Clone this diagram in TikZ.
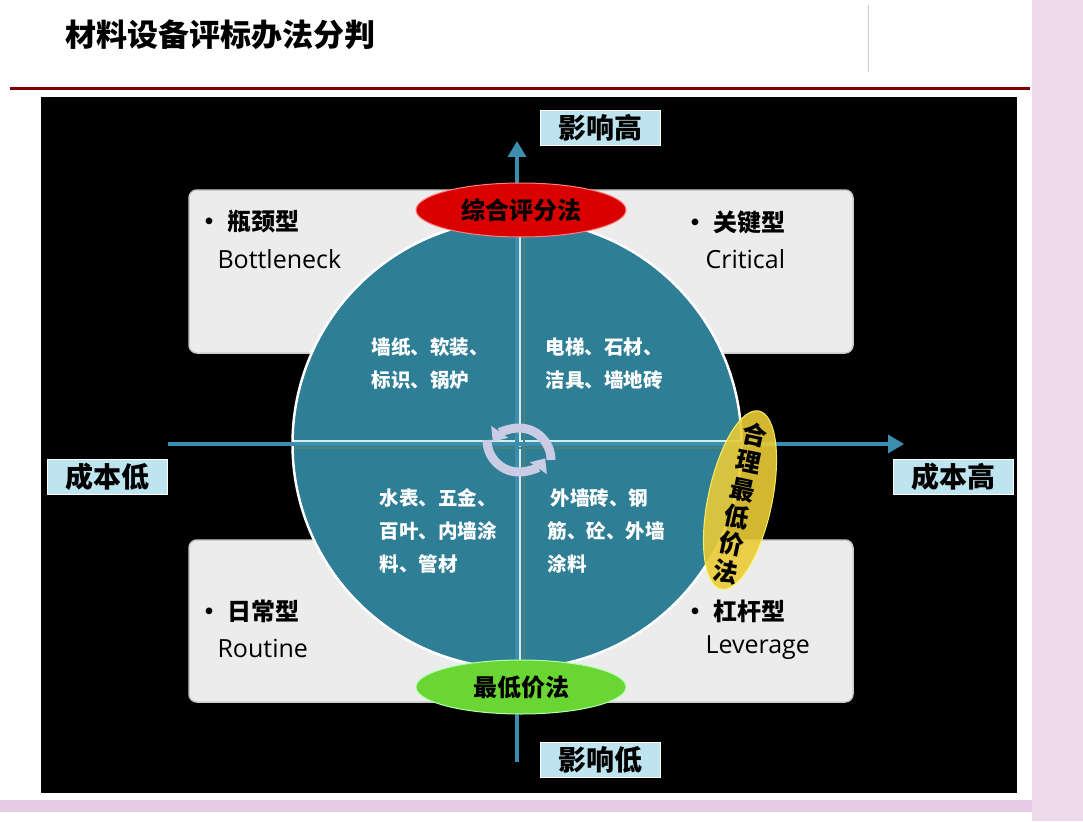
\documentclass[tikz,border=0pt]{standalone}
\usepackage{fontspec}
\setmainfont{Open Sans}
\newfontfamily\cjk{Noto Sans CJK SC}
\usetikzlibrary{arrows.meta,shapes.geometric}
\definecolor{circ}{HTML}{2E7E96}
\definecolor{axc}{HTML}{3B8EAE}
\definecolor{labf}{HTML}{BDE4EF}
\definecolor{arcc}{HTML}{C9CCE4}
\begin{document}
\begin{tikzpicture}[x=1pt,y=-1pt,
  qbox/.style={draw=white!60!gray,line width=1.5pt,fill=gray!15,rounded corners=8pt},
  axlab/.style={draw=white,line width=1pt,fill=labf,minimum width=120pt,minimum height=35pt,font=\cjk\bfseries\fontsize{28}{30}\selectfont},
  qtxt/.style={text=white,font=\cjk\bfseries\fontsize{19.5}{33}\selectfont,align=left},
  btxt/.style={anchor=west,font=\fontsize{25}{28}\selectfont},
  bct/.style={anchor=west,font=\cjk\bfseries\fontsize{24}{28}\selectfont},
  ax/.style={draw=axc,line width=3.5pt,-{Triangle[length=16pt,width=18pt]}},
  arc/.style={draw=arcc,line width=9pt}]
\useasboundingbox (0,0) rectangle (1083,821);
\fill[white] (0,0) rectangle (1083,821);
\fill[violet!15] (1032,0) rectangle (1083,821);
\fill[violet!20] (0,800) rectangle (1032,812);
\node[anchor=west,font=\cjk\bfseries\fontsize{31}{34}\selectfont] (title) at (62,35) {材料设备评标办法分判};
\draw[gray!40,line width=1pt] (868,5) -- (868,72);
\draw[red!50!black,line width=3pt] (10,89) -- (1030,89);
\fill[black] (41,97) rectangle (1017,793);
% boxes
\draw[qbox] (189,190) rectangle (500,353);
\draw[qbox] (540,190) rectangle (853,353);
\draw[qbox] (189,540) rectangle (500,702);
\draw[qbox] (540,540) rectangle (853,702);
\node[bct] (b1) at (194,222) {• 瓶颈型};
\node[btxt] (b1e) at (214,259) {Bottleneck};
\node[bct] (b2) at (680,222) {• 关键型};
\node[btxt] (b2e) at (702,259) {Critical};
\node[bct] (b3) at (194,611) {• 日常型};
\node[btxt] (b3e) at (214,648) {Routine};
\node[bct] (b4) at (680,611) {• 杠杆型};
\node[btxt] (b4e) at (702,648) {Leverage};
% circle
\node[circle,draw=white,line width=2.5pt,fill=circ,minimum size=449pt,inner sep=0pt] (c) at (517,444) {};
\draw[white!85!teal,line width=2.5pt] (520,224) -- (520,667) (294,441) -- (741,441);
\draw[gray!60!teal,line width=1.5pt] (524,224)--(524,667) (294,448)--(741,448);
% axes
\coordinate (vb) at (517,762);
\coordinate (vt) at (517,141);
\coordinate (hl) at (168,444);
\coordinate (hr) at (904,444);
\draw[ax] (vb) -- (vt);
\draw[ax] (hl) -- (hr);
% circular arrows
\draw[arc,-{Triangle[length=12pt,width=20pt]}] (487,440) arc (180:35:32);
\draw[arc,-{Triangle[length=12pt,width=20pt]}] (551,460) arc (0:-145:32);
% quadrant text
\node[qtxt] (q1) at (430,364) {墙纸、软装、\\标识、锅炉};
\node[qtxt] (q2) at (604,364) {电梯、石材、\\洁具、墙地砖};
\node[qtxt] (q3) at (438,531) {水表、五金、\\百叶、内墙涂\\料、管材};
\node[qtxt] (q4) at (606,531) {\,外墙砖、钢\\筋、砼、外墙\\涂料};
% ellipses
\node[ellipse,fill=red!85!black,draw=red!50!white,line width=1pt,minimum width=210pt,minimum height=54pt,font=\cjk\bfseries\fontsize{24}{26}\selectfont,text=black] (e1) at (521,210) {综合评分法};
\node[ellipse,fill=green!55!lime!80!black!80!white,draw=green!30!white,line width=1pt,minimum width=210pt,minimum height=54pt,font=\cjk\bfseries\fontsize{24}{26}\selectfont] (e2) at (521,687) {最低价法};
\node[ellipse,fill=yellow!70!orange!90!black!85,draw=yellow!60,line width=1pt,minimum width=64pt,minimum height=182pt,rotate=-12,opacity=0.9] (e3) at (740,500) {};
\node[align=center,font=\cjk\bfseries\fontsize{25}{28}\selectfont,rotate=-12] (e3t) at (740,503) {合\\理\\最\\低\\价\\法};
% axis labels
\node[axlab] (l1) at (600,128) {影响高};
\node[axlab] (l2) at (600,760) {影响低};
\node[axlab] (l3) at (107,477) {成本低};
\node[axlab] (l4) at (953,477) {成本高};
\end{tikzpicture}
\end{document}
